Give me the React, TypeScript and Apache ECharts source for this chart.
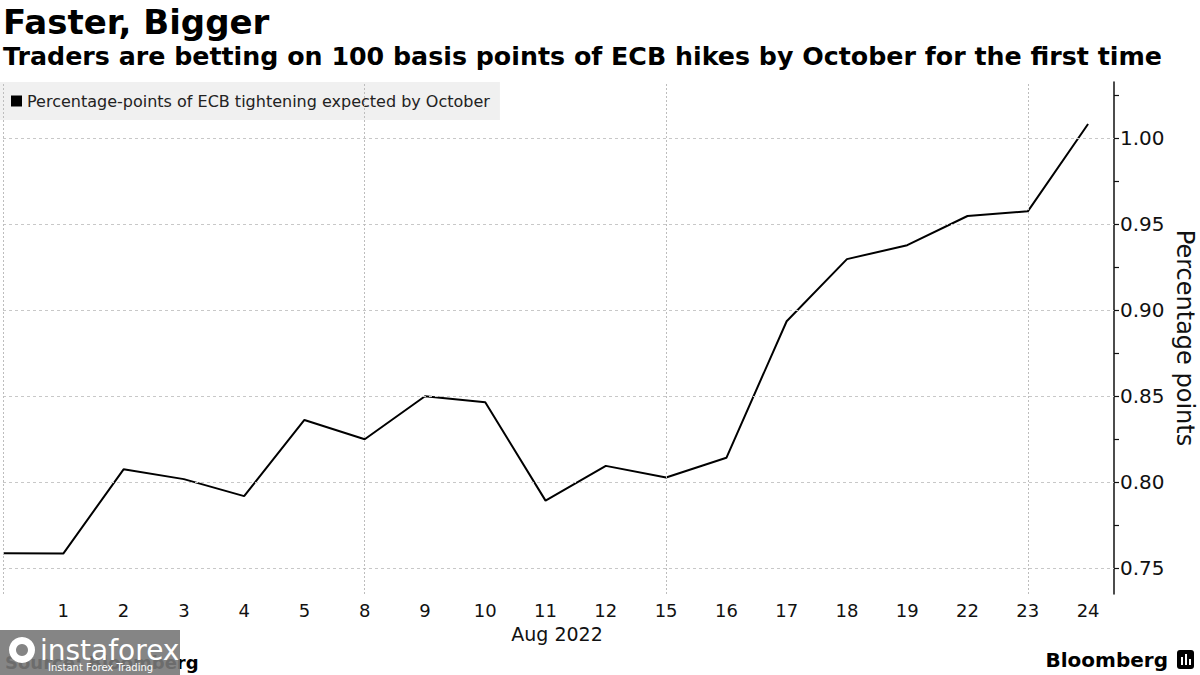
import React, { useEffect, useRef } from "react";
import * as echarts from "echarts";

const dayLabels = ["", "1", "2", "3", "4", "5", "8", "9", "10", "11", "12", "15", "16", "17", "18", "19", "22", "23", "24"];
const tighteningValues = [0.7587, 0.7585, 0.8075, 0.8018, 0.7919, 0.8362, 0.825, 0.85, 0.8465, 0.7893, 0.8095, 0.8027, 0.8142, 0.8936, 0.9297, 0.9378, 0.9548, 0.9575, 1.0083];
const yTickLabels = [0.75, 0.8, 0.85, 0.9, 0.95, 1.0];
const yMinorTicks = [0.75, 0.775, 0.8, 0.825, 0.85, 0.875, 0.9, 0.925, 0.95, 0.975, 1.0, 1.025];
const verticalGridIdx = [0, 6, 11, 17];
const seriesName = "Percentage-points of ECB tightening expected by October";

const FONT = "DejaVu Sans";

export default function App() {
  const ref = useRef<HTMLDivElement>(null);
  useEffect(() => {
    if (!ref.current) return;
    const chart = echarts.init(ref.current, null, { renderer: "svg" });
    const points = tighteningValues.map((v, i) => [i, v]);
    chart.setOption({
      animation: false,
      backgroundColor: "#ffffff",
      textStyle: { fontFamily: FONT },
      grid: { left: 0, right: 86, top: 82, bottom: 81, containLabel: false },
      legend: {
        data: [seriesName],
        left: 0,
        top: 82,
        orient: "horizontal",
        backgroundColor: "#f0f0f0",
        padding: [11, 10, 11, 11],
        icon: "rect",
        itemWidth: 11,
        itemHeight: 11,
        textStyle: { fontFamily: FONT, fontSize: 16, color: "#222" },
        selectedMode: false,
      },
      xAxis: {
        type: "value",
        min: 0,
        max: 18.43,
        interval: 1,
        axisLine: { show: false, onZero: false },
        axisTick: { show: false },
        axisLabel: {
          fontFamily: FONT,
          fontSize: 18,
          color: "#111",
          margin: 7,
          showMaxLabel: false,
          formatter: (v: number) => (Number.isInteger(v) ? dayLabels[v] ?? "" : ""),
        },
        splitLine: { show: false },
      },
      yAxis: {
        type: "value",
        position: "right",
        min: 0.735,
        max: 1.0327,
        axisLine: { show: true, onZero: false, lineStyle: { color: "#111", width: 1.5 } },
        axisTick: { show: true, length: 5, customValues: yMinorTicks, lineStyle: { color: "#111", width: 1.2 } },
        axisLabel: {
          customValues: yTickLabels,
          formatter: (v: number) => v.toFixed(2),
          fontFamily: FONT,
          fontSize: 20,
          color: "#111",
          margin: 6,
        },
        splitLine: { show: false },
      },
      series: [
        {
          name: "grid",
          type: "line",
          data: points,
          symbol: "none",
          lineStyle: { opacity: 0 },
          silent: true,
          z: 1,
          markLine: {
            silent: true,
            symbol: ["none", "none"],
            label: { show: false },
            data: [
              ...yTickLabels.map((v) => ({ yAxis: v, lineStyle: { color: "#c8c8c8", type: [3, 3], width: 1 } })),
              ...verticalGridIdx.map((i) => ({ xAxis: i, lineStyle: { color: "#bdbdbd", type: [2, 2], width: 1 } })),
            ],
          },
        },
        {
          name: seriesName,
          type: "line",
          data: points,
          symbol: "none",
          color: "#000000",
          lineStyle: { color: "#000000", width: 2 },
          z: 3,
        },
      ],
      graphic: [
        { type: "text", left: 3, top: 5, style: { text: "Faster, Bigger", font: `bold 34px '${FONT}'`, fill: "#000" } },
        { type: "text", left: 3, top: 44, style: { text: "Traders are betting on 100 basis points of ECB hikes by October for the first time", font: `bold 25.3px '${FONT}'`, fill: "#000" } },
        { type: "text", x: 557, y: 634, style: { text: "Aug 2022", font: `19px '${FONT}'`, fill: "#111", align: "center", verticalAlign: "middle" } },
        { type: "text", x: 1185, y: 338, rotation: -Math.PI / 2, style: { text: "Percentage points", font: `24px '${FONT}'`, fill: "#111", align: "center", verticalAlign: "middle" } },
        { type: "text", x: 5, y: 662, style: { text: "Source: Bloomberg", font: `bold 18px '${FONT}'`, fill: "#000", verticalAlign: "middle" } },
        { type: "rect", shape: { x: 0, y: 630, width: 180, height: 45 }, style: { fill: "rgba(120,120,120,0.9)" } },
        { type: "ring", shape: { cx: 22, cy: 650, r: 13, r0: 6 }, style: { fill: "#ffffff" } },
        { type: "text", x: 40, y: 650, style: { text: "instaforex", font: `28px '${FONT}'`, fill: "#ffffff", verticalAlign: "middle" } },
        { type: "text", x: 48, y: 667, style: { text: "Instant Forex Trading", font: `10px '${FONT}'`, fill: "#ffffff", verticalAlign: "middle" } },
        { type: "text", x: 1168, y: 660, style: { text: "Bloomberg", font: `bold 20px '${FONT}'`, fill: "#000", align: "right", verticalAlign: "middle" } },
        { type: "rect", shape: { x: 1177, y: 650, width: 17, height: 19, r: 3 }, style: { fill: "#000" } },
        { type: "rect", shape: { x: 1181, y: 657, width: 2, height: 8 }, style: { fill: "#fff" } },
        { type: "rect", shape: { x: 1185, y: 654, width: 2, height: 11 }, style: { fill: "#fff" } },
        { type: "rect", shape: { x: 1189, y: 659, width: 2, height: 6 }, style: { fill: "#fff" } },
      ],
    });
    return () => chart.dispose();
  }, []);
  return <div ref={ref} style={{ position: "fixed", left: 0, top: 0, width: 1200, height: 675 }} />;
}
